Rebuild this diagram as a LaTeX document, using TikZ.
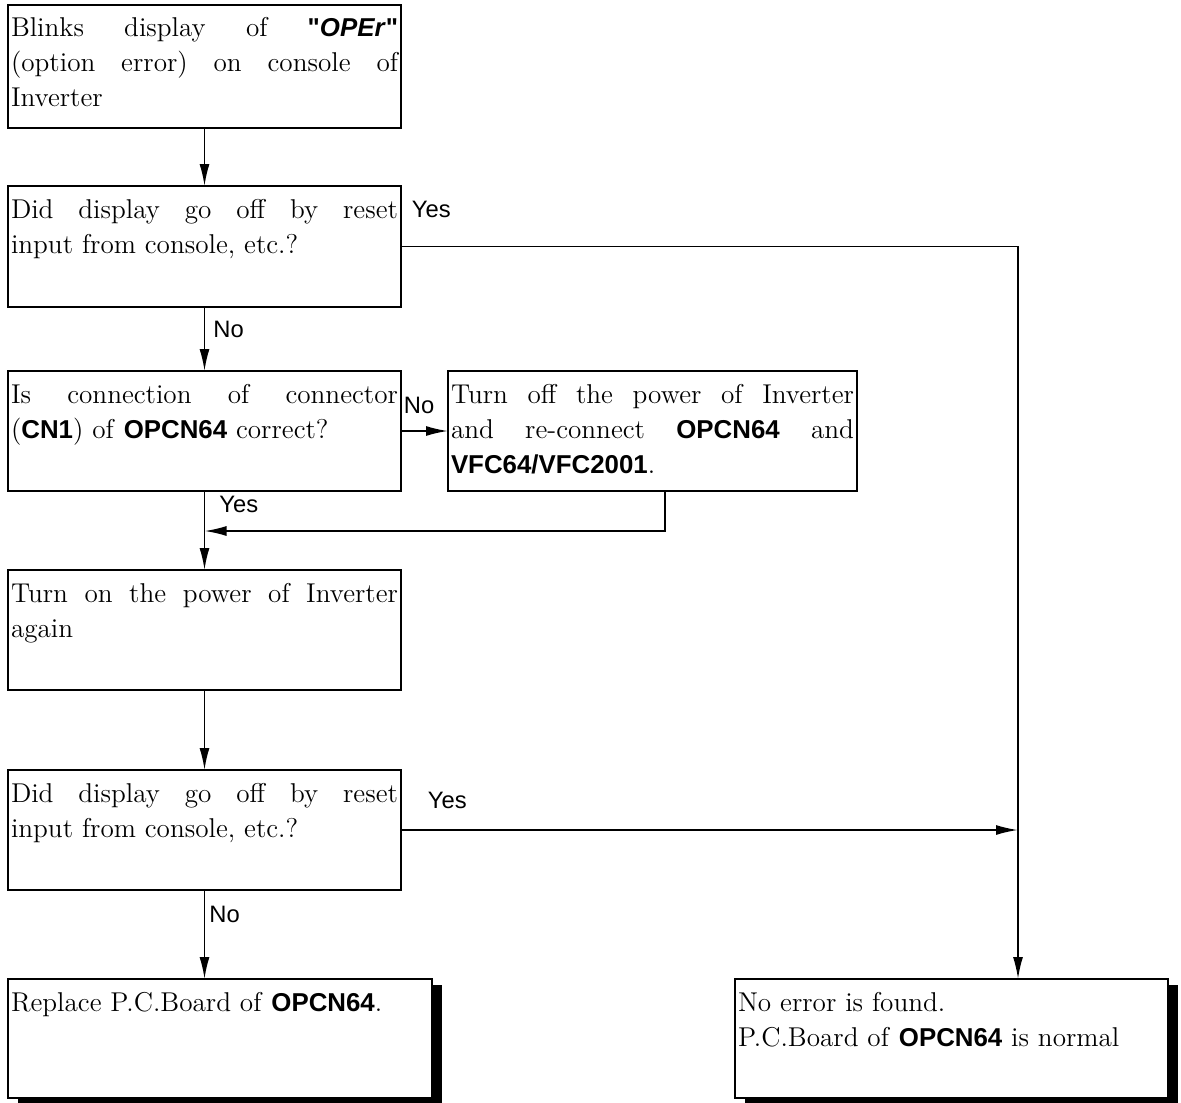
\documentclass[tikz,border=0pt]{standalone}
\usepackage{fontspec}
\setsansfont{Liberation Sans}[Scale=0.95]
\newfontfamily\sfquote{Liberation Sans}[Scale=0.95]
\usetikzlibrary{arrows.meta,positioning,shadows}
\tikzset{%
    >={Latex[length=11pt,width=5pt]},
    stepbox/.style={draw,line width=1pt,anchor=north west,inner xsep=1.5pt,
        inner ysep=0pt,outer sep=0pt,font=\fontsize{13.6}{17.5}\selectfont},
    endbox/.style={stepbox,fill=white,
        drop shadow={shadow xshift=5pt,shadow yshift=-3pt,fill=black,opacity=1}},
    lbl/.style={font=\sffamily\fontsize{12.5}{13}\selectfont,inner sep=1pt},
    wire/.style={->,line width=0.9pt}
}
\newcommand{\boxtxt}[3]{\parbox[t][#2][t]{#1}{\hyphenpenalty=10000\rule{0pt}{16pt}#3}}
\newcommand{\bsf}[1]{\textsf{\bfseries #1}}

\begin{document}
\begin{tikzpicture}[x=0.5pt,y=-0.5pt]
            \useasboundingbox (0,0) rectangle (1181,1102);
            \node [stepbox] (s1) at (8,5) {\boxtxt{193.5pt}{61.5pt}{Blinks display of
            {\sfquote\bfseries"\textit{OPEr}"}\linebreak (option error) on console of\linebreak Inverter}};
            \node [stepbox] (s2) at (8,186) {\boxtxt{193.5pt}{60.5pt}{Did display go off by
            reset\linebreak input from console, etc.?}};
            \node [stepbox] (s3) at (8,371) {\boxtxt{193.5pt}{60pt}{Is connection of
            connector\linebreak (\bsf{CN1}) of \bsf{OPCN64} correct?}};
            \node [stepbox] (s4) at (448,371) {\boxtxt{201.5pt}{60pt}{Turn off the power of
            Inverter\linebreak and re-connect \bsf{OPCN64} and\linebreak \bsf{VFC64/VFC2001}.}};
            \node [stepbox] (s5) at (8,570) {\boxtxt{193.5pt}{60pt}{Turn on the power of
            Inverter\linebreak again}};
            \node [stepbox] (s6) at (8,770) {\boxtxt{193.5pt}{60pt}{Did display go off by
            reset\linebreak input from console, etc.?}};
            \node [endbox] (s7) at (8,979) {\boxtxt{209pt}{59.5pt}{Replace P.C.Board of
            \bsf{OPCN64}.}};
            \node [endbox] (s8) at (735,979) {\boxtxt{213.5pt}{59.5pt}{No error is found.\\
            P.C.Board of \bsf{OPCN64} is normal}};
            \coordinate (rt) at (1018,0);
            \coordinate (ret) at (s3.south |- 0,531);
            %%%%%
            \draw[wire] (s1) -- (s2);
            \draw[wire] (s2) -- node[lbl,pos=.35,right=3pt]{No} (s3);
            \draw[wire] (s2.east) -| node[lbl,pos=0,anchor=south west,xshift=4pt,yshift=13pt]{Yes}
            (rt |- s8.north);
            \draw[wire] (s3) -- node[lbl,pos=0,anchor=south west,yshift=7pt]{No} (s4);
            \draw[wire] (s3) -- node[lbl,pos=.17,right=6pt]{Yes} (s5);
            \draw[wire] ([xshift=6.25pt]s4.south) |- (ret);
            \draw[wire] (s5) -- (s6);
            \draw[wire] (s6.east) -- node[lbl,pos=0,anchor=south west,xshift=12pt,yshift=9pt]{Yes}
            (rt |- s6.east);
            \draw[wire] (s6.south) -- node[lbl,pos=.27,right=1pt]{No} (s6.south |- s7.north);
\end{tikzpicture}
\end{document}
